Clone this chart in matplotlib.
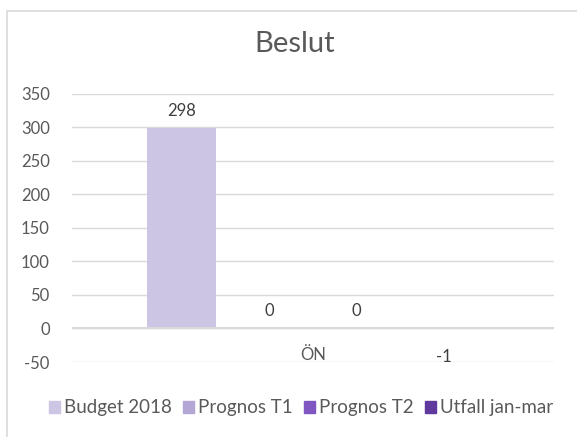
import matplotlib.pyplot as plt
import matplotlib.patches as mpatches
import numpy as np

plt.rcParams['font.family'] = ['Lato', 'DejaVu Sans']

category = "ÖN"
series = ["Budget 2018", "Prognos T1", "Prognos T2", "Utfall jan-mar"]
values = [298, 0, 0, -1]
colors = ["#CCC6E4", "#B4A7D6", "#7F56C2", "#60399E"]
yticks = [-50, 0, 50, 100, 150, 200, 250, 300, 350]

fig = plt.figure(figsize=(5.77, 4.37), dpi=100)
ax = fig.add_axes([0.1248, 0.1716, 0.8354, 0.6144])

# chart frame
fig.patches.append(mpatches.Rectangle((7 / 577, -0.05), 1.2, 1 - 11 / 437 + 0.05,
                                      transform=fig.transFigure, fill=False,
                                      edgecolor="#D9D9D9", linewidth=1.2))

step = 0.1815
width = 0.143
offsets = (np.arange(len(series)) - 1.5) * step
text_col = "#404040"
fs = 12

for off, v, c, name in zip(offsets, values, colors, series):
    ax.bar(off, v, width=width, color=c, label=name, zorder=2)
    if v >= 0:
        ax.annotate(str(v), (off, v), xytext=(0, 17), textcoords="offset pixels",
                    ha="center", va="center", fontsize=fs, color=text_col)
    else:
        ax.annotate(str(v), (off, v), xytext=(0, -28), textcoords="offset pixels",
                    ha="center", va="center", fontsize=fs, color=text_col)

ax.set_xlim(-0.5, 0.5)
ax.set_ylim(-50, 350)
ax.set_yticks(yticks)
ax.set_yticklabels([str(t) for t in yticks], fontsize=fs, color="#595959")
ax.tick_params(axis="y", length=0, pad=16)
ax.set_xticks([])
ax.text(0, -40, category, ha="center", va="center", fontsize=fs, color="#595959")

ax.grid(axis="y", color="#D9D9D9", linewidth=1, zorder=0)
ax.axhline(0, color="#D9D9D9", linewidth=1.5, zorder=3)
for s in ax.spines.values():
    s.set_visible(False)

fig.text(295 / 577, 1 - 44 / 437, "Beslut", ha="center", va="center",
         fontsize=21, color="#595959")

handles = [mpatches.Patch(color=c) for c in colors]
fig.legend(handles, series, loc="center", bbox_to_anchor=(301 / 577, 1 - 408 / 437),
           ncol=4, frameon=False, fontsize=13.5, labelcolor="#595959",
           handlelength=0.6, handleheight=0.6, handletextpad=0.2, columnspacing=0.6)

fig.savefig("out.png", dpi=100)
